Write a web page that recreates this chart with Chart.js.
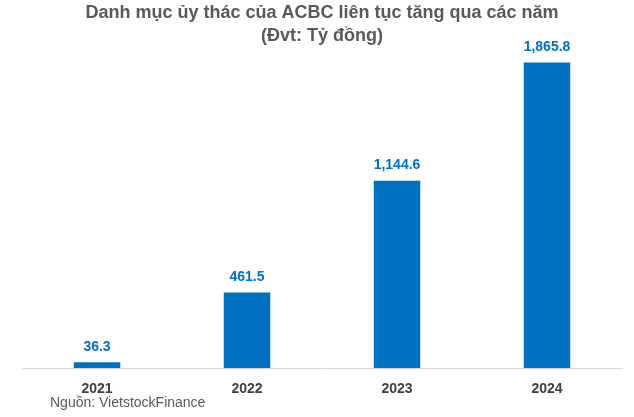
<!DOCTYPE html>
<html><head><meta charset="utf-8">
<script src="https://cdn.jsdelivr.net/npm/chart.js@4"></script>
<style>html,body{margin:0;padding:0;background:#fff}#w{width:634px;height:417px}</style>
</head><body><div id="w"><canvas id="c"></canvas></div>
<script>
const categories = ["2021","2022","2023","2024"];
const values = [36.3, 461.5, 1144.6, 1865.8];
const titleLines = ["Danh mục ủy thác của ACBC liên tục tăng qua các năm","(Đvt: Tỷ đồng)"];
const sourceText = "Nguồn: VietstockFinance";
const fmt = v => v.toLocaleString("en-US",{minimumFractionDigits:1,maximumFractionDigits:1});
const labelsPlugin = {id:"lbl",afterDatasetsDraw(ch){
  const ctx=ch.ctx; const meta=ch.getDatasetMeta(0);
  ctx.save(); ctx.font="bold 14px 'Liberation Sans', Arial"; ctx.fillStyle="#0070C0";
  ctx.textAlign="center"; ctx.textBaseline="bottom";
  meta.data.forEach((b,i)=>ctx.fillText(fmt(values[i]),b.x,b.y-8));
  ctx.font="14px 'Liberation Sans', Arial"; ctx.fillStyle="#595959"; ctx.textAlign="left"; ctx.textBaseline="middle";
  ctx.fillText(sourceText,50,403);
  ctx.restore();
}};
new Chart(document.getElementById("c"),{
  type:"bar",
  data:{labels:categories,datasets:[{data:values,backgroundColor:"#0070C0",barPercentage:0.62,categoryPercentage:0.5}]},
  options:{responsive:true,maintainAspectRatio:false,animation:false,
    layout:{padding:{left:22,right:12,bottom:14,top:0}},
    plugins:{legend:{display:false},tooltip:{enabled:false},
      title:{display:true,text:titleLines,color:"#595959",font:{family:"'Liberation Sans', Arial",size:18,weight:"bold",lineHeight:1.25},padding:{top:2,bottom:0}}},
    scales:{
      x:{grid:{display:false},border:{color:"#d9d9d9"},ticks:{color:"#404040",font:{family:"'Liberation Sans', Arial",size:14,weight:"bold"},padding:5}},
      y:{display:false,min:0,max:1960}
    }}
  ,plugins:[labelsPlugin]});
</script></body></html>
